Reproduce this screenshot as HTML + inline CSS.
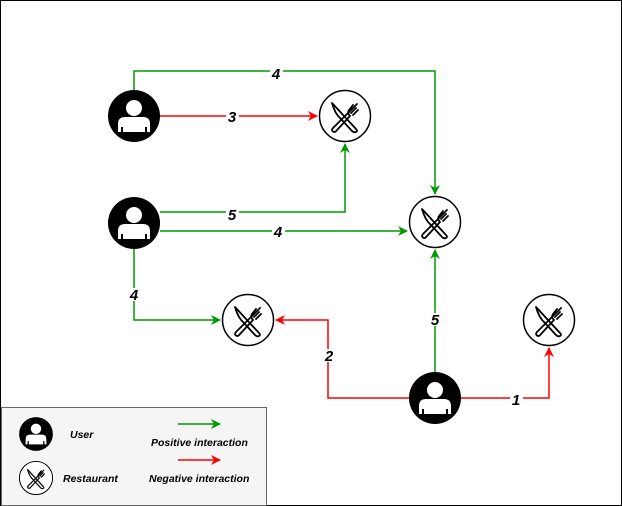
<!DOCTYPE html>
<html><head><meta charset="utf-8"><style>
html,body{margin:0;padding:0;background:#fff}
svg{display:block}
text{font-family:"Liberation Sans",sans-serif;font-style:italic;font-weight:bold}
</style></head><body>
<svg width="622" height="506" viewBox="0 0 622 506">
<defs>
<marker id="ag" markerWidth="10" markerHeight="10" refX="9" refY="5" orient="auto" markerUnits="userSpaceOnUse"><path d="M0,0 L10,5 L0,10 L3,5 z" fill="#009900"/></marker>
<marker id="ar" markerWidth="10" markerHeight="10" refX="9" refY="5" orient="auto" markerUnits="userSpaceOnUse"><path d="M0,0 L10,5 L0,10 L3,5 z" fill="#ff0000"/></marker>
<g id="user">
<circle r="26" fill="#000"/>
<circle cx="0" cy="-8" r="8" fill="#fff"/>
<path d="M-16,16 L-16,8 Q-16,1 -9,1 L9,1 Q16,1 16,8 L16,16 L13,16 L13,11 L11,11 L11,16 L-11,16 L-11,11 L-13,11 L-13,16 z" fill="#fff"/>
</g>
<g id="rest">
<circle r="25.5" fill="#fff" stroke="#000" stroke-width="1.5"/>
<g fill="none" stroke="#000" stroke-width="1.8" stroke-linecap="round" stroke-linejoin="round">
<path d="M-13,-13 L11,13 Q13,15 11,16 Q9,17 7,15 L-4,3 Q-10,-2 -13,-13 z"/>
<path d="M12,-12 L-12,12 Q-14,14 -12,15.5 Q-10,17 -8,14 L5,0 M5,0 Q2,-3 4,-6 L8,-11 M6,-3 L11,-8 M8,-1 L13,-6"/>
</g>
</g>
</defs>
<rect x="0.5" y="0.5" width="621" height="505" fill="#fff" stroke="#000"/>
<g fill="none" stroke-width="1.5">
<path d="M134,90 V71 H435 V194" stroke="#009900" marker-end="url(#ag)"/>
<path d="M160,116 H317" stroke="#ff0000" marker-end="url(#ar)"/>
<path d="M160,212 H345 V144" stroke="#009900" marker-end="url(#ag)"/>
<path d="M160,231 H407" stroke="#009900" marker-end="url(#ag)"/>
<path d="M134,249 V320 H220" stroke="#009900" marker-end="url(#ag)"/>
<path d="M409,398 H328 V320 H276" stroke="#ff0000" marker-end="url(#ar)"/>
<path d="M435,372 V250" stroke="#009900" marker-end="url(#ag)"/>
<path d="M461,398 H549 V348" stroke="#ff0000" marker-end="url(#ar)"/>
</g>
<g font-size="15" text-anchor="middle" fill="#000">
<rect x="270" y="66" width="13" height="12" fill="#fff"/><text x="276" y="79">4</text>
<rect x="226" y="110" width="13" height="12" fill="#fff"/><text x="232" y="122">3</text>
<rect x="226" y="208" width="13" height="12" fill="#fff"/><text x="232" y="220">5</text>
<rect x="272" y="225" width="13" height="12" fill="#fff"/><text x="278" y="237">4</text>
<rect x="128" y="288" width="13" height="13" fill="#fff"/><text x="134" y="300">4</text>
<rect x="322" y="349" width="13" height="13" fill="#fff"/><text x="329" y="361">2</text>
<rect x="429" y="313" width="13" height="13" fill="#fff"/><text x="435" y="325">5</text>
<rect x="510" y="393" width="13" height="13" fill="#fff"/><text x="516" y="405">1</text>
</g>
<use href="#user" x="134" y="116"/>
<use href="#user" x="134" y="223"/>
<use href="#user" x="435" y="398"/>
<use href="#rest" x="345" y="116"/>
<use href="#rest" x="435" y="222"/>
<use href="#rest" x="248" y="320"/>
<use href="#rest" x="549" y="320"/>
<rect x="1.5" y="407.5" width="265" height="98" fill="#f5f5f5" stroke="#666"/>
<g transform="translate(36,434) scale(0.65)"><use href="#user"/></g>
<g transform="translate(36,478) scale(0.65)"><use href="#rest"/></g>
<g font-size="10.5" fill="#000">
<text x="70" y="438">User</text>
<text x="63" y="482">Restaurant</text>
<text x="151" y="446">Positive interaction</text>
<text x="149" y="482">Negative interaction</text>
</g>
<path d="M178,424 H220" stroke="#009900" stroke-width="1.5" marker-end="url(#ag)"/>
<path d="M178,460 H220" stroke="#ff0000" stroke-width="1.5" marker-end="url(#ar)"/>
</svg>
</body></html>
